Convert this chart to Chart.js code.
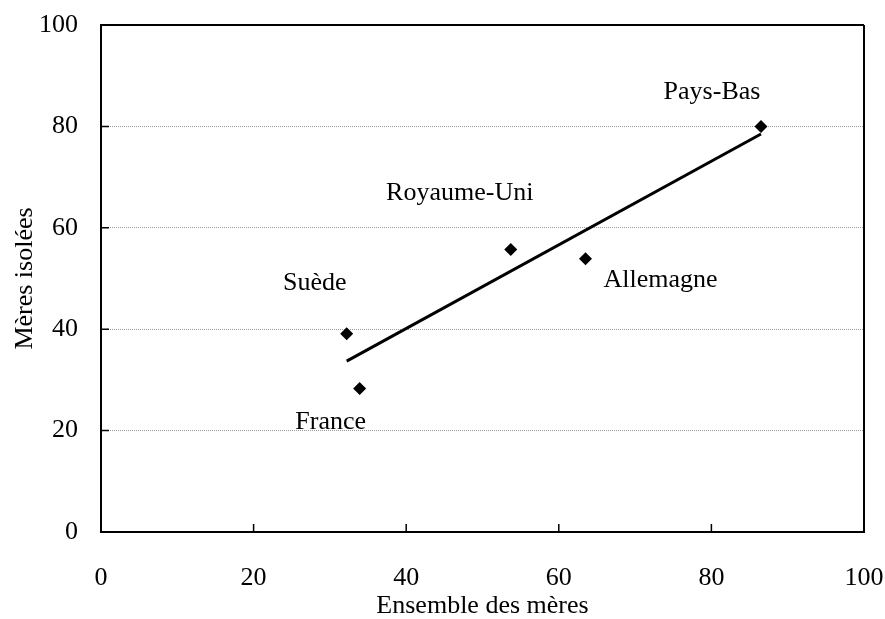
<!DOCTYPE html>
<html><head><meta charset="utf-8">
<script src="https://cdn.jsdelivr.net/npm/chart.js@4"></script>
<style>html,body{margin:0;padding:0;background:#fff}#wrap{width:885px;height:619px}</style>
</head><body><div id="wrap"><canvas id="c" width="885" height="619"></canvas></div>
<script>
const countries = ["Suède", "France", "Royaume-Uni", "Allemagne", "Pays-Bas"];
const ensembleMeres = [32.2, 33.9, 53.7, 63.5, 86.5];
const meresIsolees = [39.1, 28.3, 55.7, 53.9, 80.0];
const trendX = [32.2, 86.5];
const trendY = [33.7, 78.5];
const tickValues = [0, 20, 40, 60, 80, 100];

const labelOffsets = {"Suède":[-32,-51],"France":[-29,34],"Royaume-Uni":[-51,-56],"Allemagne":[75,21],"Pays-Bas":[-49,-34]};
const FONT = "'Liberation Serif', 'Times New Roman', serif";
const FS = 26;

const framePlugin = {
  id: 'frame',
  afterDraw(chart) {
    const ctx = chart.ctx, a = chart.chartArea;
    const xs = chart.scales.x, ys = chart.scales.y;
    ctx.save();
    ctx.strokeStyle = '#000';
    ctx.lineWidth = 2;
    ctx.beginPath();
    ctx.moveTo(a.left, a.top); ctx.lineTo(a.right, a.top);
    ctx.moveTo(a.right, a.top); ctx.lineTo(a.right, a.bottom);
    ctx.stroke();
    ctx.lineWidth = 1.5;
    ctx.beginPath();
    tickValues.forEach(v => {
      if (v > 0 && v < 100) {
        const px = xs.getPixelForValue(v);
        ctx.moveTo(px, a.bottom); ctx.lineTo(px, a.bottom - 8);
        const py = ys.getPixelForValue(v);
        ctx.moveTo(a.left, py); ctx.lineTo(a.left + 8, py);
      }
    });
    ctx.stroke();
    ctx.fillStyle = '#000';
    ctx.font = FS + "px " + FONT;
    ctx.textAlign = 'center';
    ctx.textBaseline = 'middle';
    countries.forEach((c, i) => {
      const px = xs.getPixelForValue(ensembleMeres[i]);
      const py = ys.getPixelForValue(meresIsolees[i]);
      const o = labelOffsets[c];
      ctx.fillText(c, px + o[0], py + o[1]);
    });
    ctx.restore();
  }
};

new Chart(document.getElementById('c'), {
  type: 'scatter',
  data: {
    datasets: [
      {
        label: 'Pays',
        data: countries.map((c, i) => ({x: ensembleMeres[i], y: meresIsolees[i]})),
        pointStyle: 'rectRot',
        pointRadius: 6.5,
        pointBackgroundColor: '#000',
        pointBorderWidth: 0,
        showLine: false
      },
      {
        label: 'Tendance',
        type: 'line',
        data: trendX.map((x, i) => ({x: x, y: trendY[i]})),
        borderColor: '#000',
        borderWidth: 3,
        pointRadius: 0,
        fill: false
      }
    ]
  },
  options: {
    responsive: false,
    animation: false,
    devicePixelRatio: 1,
    layout: {padding: {top: 25, right: 21, left: 0, bottom: 0}},
    plugins: {legend: {display: false}, tooltip: {enabled: false}},
    scales: {
      x: {
        type: 'linear', min: 0, max: 100,
        afterBuildTicks: s => { s.ticks = tickValues.map(v => ({value: v})); },
        afterFit: s => { s.height = 87; s.paddingLeft = 0; s.paddingRight = 0; },
        grid: {display: false, drawTicks: false},
        border: {display: true, color: '#000', width: 2},
        ticks: {color: '#000', padding: 31, maxRotation: 0, font: {family: FONT, size: FS}},
        title: {display: true, text: 'Ensemble des mères', color: '#000', font: {family: FONT, size: FS, lineHeight: 1}, padding: {top: 0, bottom: 0}}
      },
      y: {
        type: 'linear', min: 0, max: 100,
        afterBuildTicks: s => { s.ticks = tickValues.map(v => ({value: v})); },
        afterFit: s => { s.width = 101; s.paddingTop = 0; s.paddingBottom = 0; },
        grid: {
          drawTicks: false,
          color: ctx => (ctx.tick && (ctx.tick.value === 0 || ctx.tick.value === 100)) ? 'rgba(0,0,0,0)' : '#9a9a9a',
          lineWidth: 1
        },
        border: {display: true, color: '#000', width: 2, dash: [1, 1]},
        ticks: {color: '#000', padding: 23, font: {family: FONT, size: FS}},
        title: {display: true, text: 'Mères isolées', color: '#000', font: {family: FONT, size: FS, lineHeight: 1}, padding: {top: 12, bottom: 0}}
      }
    }
  },
  plugins: [framePlugin]
});
</script>
</body></html>
